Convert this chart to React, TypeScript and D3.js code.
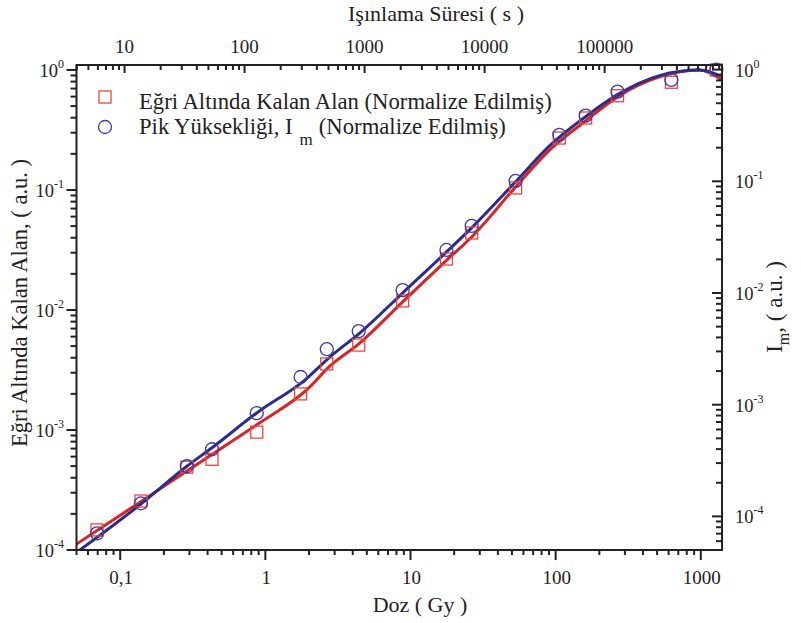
import React from 'react';
import * as d3 from 'd3';

// ---- data ----
const doses = [0.0692, 0.139, 0.288, 0.429, 0.873, 1.75, 2.65, 4.4, 8.83, 17.7, 26.4, 53, 106, 161, 267, 627, 1280];
const areaNorm = [1.47e-4, 2.56e-4, 4.9e-4, 5.7e-4, 9.6e-4, 2.0e-3, 3.55e-3, 5.1e-3, 0.0119, 0.0266, 0.0438, 0.104, 0.271, 0.398, 0.61, 0.79, 1.0];
const peakNorm = [7.05e-5, 1.31e-4, 2.81e-4, 3.99e-4, 8.4e-4, 1.77e-3, 3.15e-3, 4.56e-3, 0.0106, 0.0243, 0.0399, 0.101, 0.261, 0.387, 0.635, 0.81, 1.0];

const redFitDose = [0.05, 0.141, 0.288, 0.434, 0.887, 1.96, 2.78, 4.47, 8.97, 18.0, 26.8, 53, 90.7, 160.7, 266.7, 519, 977, 1400];
const redFitVal = [1.12e-4, 2.56e-4, 4.55e-4, 6.31e-4, 1.12e-3, 2.2e-3, 3.4e-3, 5.3e-3, 0.0119, 0.0264, 0.0414, 0.106, 0.215, 0.376, 0.596, 0.875, 1.0, 0.825];

const blueFitDose = [0.05, 0.141, 0.288, 0.434, 0.887, 1.87, 2.78, 4.47, 8.97, 18.0, 26.8, 53, 90.7, 160.7, 266.7, 519, 977, 1400];
const blueFitVal = [4.75e-5, 1.31e-4, 2.81e-4, 4.16e-4, 8.57e-4, 1.66e-3, 2.67e-3, 4.38e-3, 0.0102, 0.0238, 0.0391, 0.099, 0.208, 0.379, 0.597, 0.884, 0.99, 0.865];

const doseTickLabels = ['0,1', '1', '10', '100', '1000'];
const doseTickValues = [0.1, 1, 10, 100, 1000];
const timeTickLabels = ['10', '100', '1000', '10000', '100000'];
const timeTickValues = [10, 100, 1000, 10000, 100000];
const leftExponents = [0, -1, -2, -3, -4];
const rightExponents = [0, -1, -2, -3, -4];

const legendLabels = ['Eğri Altında Kalan Alan (Normalize Edilmiş)', 'Pik Yüksekliği, I', 'm', '(Normalize  Edilmiş)'];

// ---- layout ----
const W = 801, H = 623;
const L = 76.5, R = 722, T = 65, B = 550;
const FONT = "'Liberation Serif', 'Times New Roman', Times, 'DejaVu Serif', serif";
const RED = '#e3201f';
const BLUE = '#2b2d8e';
const RED_MK = '#e5493a';
const BLUE_MK = '#3b3aa6';

function logTicks(lo: number, hi: number): number[] {
  const out: number[] = [];
  for (let k = Math.floor(Math.log10(lo)) - 1; k <= Math.ceil(Math.log10(hi)); k++) {
    for (let m = 1; m <= 9; m++) {
      const v = m * Math.pow(10, k);
      if (v >= lo * 0.9999 && v <= hi * 1.0001) out.push(v);
    }
  }
  return out;
}
const isMajor = (v: number) => Math.abs(Math.log10(v) - Math.round(Math.log10(v))) < 1e-6;

export default function App() {
  const x = d3.scaleLog().domain([0.05, 1400]).range([L, R]);
  const xTop = d3.scaleLog().domain([3.98, 9.5e5]).range([L, R]);
  const yL = d3.scaleLog().domain([1e-4, 1.1]).range([B, T]);
  const yR = d3.scaleLog().domain([5e-5, 1.1]).range([B, T]);

  const redLine = d3.line<number>()
    .x((_, i) => x(redFitDose[i]))
    .y((d) => yL(d))
    .curve(d3.curveMonotoneX)(redFitVal) || '';
  const blueLine = d3.line<number>()
    .x((_, i) => x(blueFitDose[i]))
    .y((d) => yR(d))
    .curve(d3.curveMonotoneX)(blueFitVal) || '';

  const xt = logTicks(0.05, 1400);
  const xtt = logTicks(3.98, 9.5e5);
  const ylt = logTicks(1e-4, 1.1);
  const yrt = logTicks(5e-5, 1.1);

  const ts = { fontFamily: FONT, fill: '#222' } as React.CSSProperties;

  return (
    <svg width={W} height={H} style={{ position: 'absolute', left: 0, top: 0, background: '#fff', fontFamily: FONT }}>
      <rect x={0} y={0} width={W} height={H} fill="#fff" />
      <defs>
        <clipPath id="plotclip">
          <rect x={L} y={T} width={R - L} height={B - T} />
        </clipPath>
      </defs>

      {/* fit lines */}
      <g clipPath="url(#plotclip)">
        <path d={redLine} fill="none" stroke={RED} strokeWidth={3} strokeLinejoin="round" />
        <path d={blueLine} fill="none" stroke={BLUE} strokeWidth={3} strokeLinejoin="round" />
      </g>

      {/* markers */}
      {doses.map((d, i) => (
        <rect key={'s' + i} x={x(d) - 6} y={yL(areaNorm[i]) - 6} width={12} height={12}
          fill="none" stroke={RED_MK} strokeWidth={1.3} />
      ))}
      {doses.map((d, i) => (
        <circle key={'c' + i} cx={x(d)} cy={yR(peakNorm[i])} r={6.5}
          fill="none" stroke={BLUE_MK} strokeWidth={1.3} />
      ))}

      {/* frame */}
      <rect x={L} y={T} width={R - L} height={B - T} fill="none" stroke="#222" strokeWidth={2} />

      {/* bottom axis ticks (outward) */}
      {xt.map((v, i) => (
        <line key={'bx' + i} x1={x(v)} x2={x(v)} y1={B} y2={B + (isMajor(v) ? 10 : 5)} stroke="#222" strokeWidth={2} />
      ))}
      {doseTickValues.map((v, i) => (
        <text key={'bl' + i} x={x(v) + 1} y={584} textAnchor="middle" fontSize={19} style={ts}>{doseTickLabels[i]}</text>
      ))}

      {/* top axis ticks (inward) */}
      {xtt.map((v, i) => (
        <line key={'tx' + i} x1={xTop(v)} x2={xTop(v)} y1={T} y2={T + (isMajor(v) ? 8 : 5)} stroke="#222" strokeWidth={2} />
      ))}
      {timeTickValues.map((v, i) => (
        <text key={'tl' + i} x={xTop(v)} y={53} textAnchor="middle" fontSize={19} style={ts}>{timeTickLabels[i]}</text>
      ))}

      {/* left axis ticks (outward) */}
      {ylt.map((v, i) => (
        <line key={'ly' + i} x1={L} x2={L - (isMajor(v) ? 10 : 6)} y1={yL(v)} y2={yL(v)} stroke="#222" strokeWidth={2} />
      ))}
      {leftExponents.map((e, i) => (
        <text key={'ll' + i} x={64} y={yL(Math.pow(10, e)) + 7} textAnchor="end" fontSize={18.5} style={ts}>
          10<tspan fontSize={12} dy={-9}>{e}</tspan>
        </text>
      ))}

      {/* right axis ticks (inward) */}
      {yrt.map((v, i) => (
        <line key={'ry' + i} x1={R} x2={R - (isMajor(v) ? 10 : 6)} y1={yR(v)} y2={yR(v)} stroke="#222" strokeWidth={2} />
      ))}
      {rightExponents.map((e, i) => (
        <text key={'rl' + i} x={735} y={yR(Math.pow(10, e)) + 7} textAnchor="start" fontSize={18.5} style={ts}>
          10<tspan fontSize={12} dy={-9}>{e}</tspan>
        </text>
      ))}

      {/* axis titles */}
      <text x={420} y={612} textAnchor="middle" fontSize={22} style={ts}>Doz ( Gy )</text>
      <text x={436} y={21} textAnchor="middle" fontSize={22} style={ts}>Işınlama Süresi ( s )</text>
      <text transform="translate(27,303) rotate(-90)" textAnchor="middle" fontSize={22.5} style={ts}>
        Eğri Altında Kalan Alan, ( a.u. )
      </text>
      <text transform="translate(782,307) rotate(-90)" textAnchor="middle" fontSize={23} style={ts}>
        I<tspan fontSize={16} dy={7}>m</tspan><tspan dy={-7}>, ( a.u. )</tspan>
      </text>

      {/* legend */}
      <rect x={99} y={91} width={12} height={12} fill="none" stroke={RED_MK} strokeWidth={1.3} />
      <text x={139} y={109} fontSize={22.7} style={ts}>{legendLabels[0]}</text>
      <circle cx={105} cy={127} r={6.5} fill="none" stroke={BLUE_MK} strokeWidth={1.3} />
      <text x={139} y={134} fontSize={22.7} style={ts}>
        {legendLabels[1]}<tspan fontSize={17} dx={7} dy={11}>{legendLabels[2]}</tspan>
        <tspan dx={6} dy={-11}>{legendLabels[3]}</tspan>
      </text>
    </svg>
  );
}
